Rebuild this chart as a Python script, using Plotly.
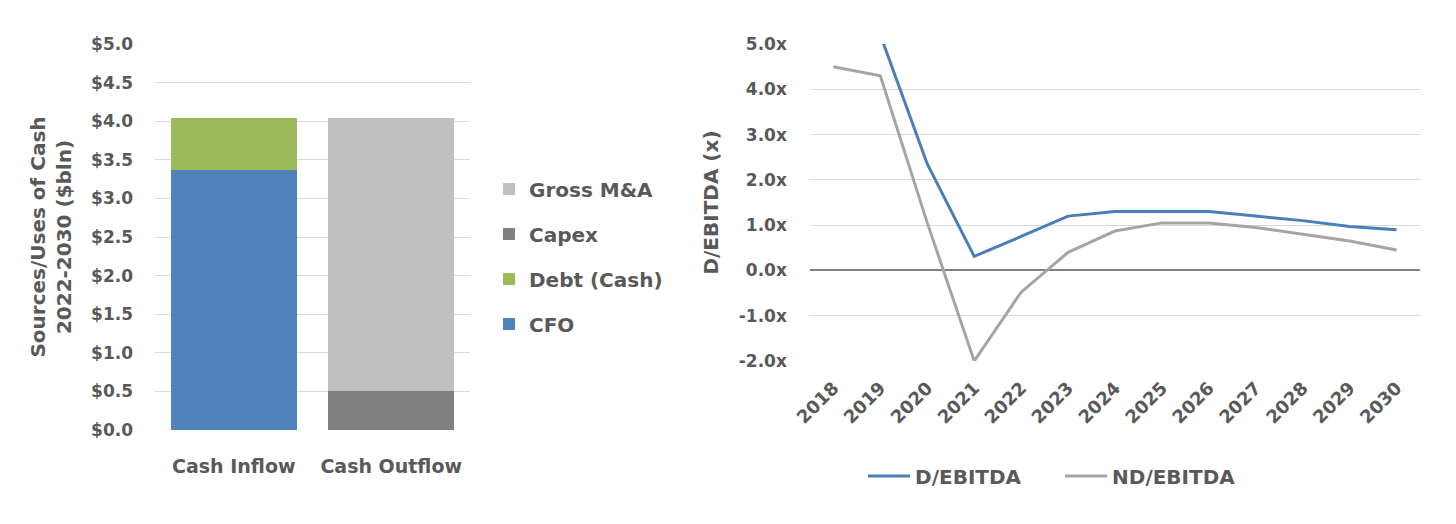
import plotly.graph_objects as go

# --- left chart: sources / uses of cash 2022-2030 ($bln) ---
flows = ["Cash Inflow", "Cash Outflow"]
cfo = [3.37, 0]
debt = [0.67, 0]
capex = [0, 0.50]
gross_ma = [0, 3.54]
cash_ticks = [0, 0.5, 1, 1.5, 2, 2.5, 3, 3.5, 4, 4.5, 5]
cash_labels = ["$0.0", "$0.5", "$1.0", "$1.5", "$2.0", "$2.5", "$3.0", "$3.5", "$4.0", "$4.5", "$5.0"]

# --- right chart: leverage ---
years = ["2018", "2019", "2020", "2021", "2022", "2023", "2024",
         "2025", "2026", "2027", "2028", "2029", "2030"]
d_ebitda = [6.0, 5.2, 2.35, 0.31, 0.75, 1.2, 1.3, 1.3, 1.3, 1.2, 1.1, 0.97, 0.9]
nd_ebitda = [4.5, 4.3, 1.05, -2.0, -0.48, 0.4, 0.87, 1.05, 1.05, 0.95, 0.8, 0.65, 0.45]
lev_ticks = [-2, -1, 0, 1, 2, 3, 4, 5]
lev_labels = ["-2.0x", "-1.0x", "0.0x", "1.0x", "2.0x", "3.0x", "4.0x", "5.0x"]

TXT = "#595959"
GRID = "#d9d9d9"
FONT = dict(family="DejaVu Sans", size=17, color=TXT, weight="bold")

fig = go.Figure()

# stacked bottom-up; legendrank puts the top segment first in the legend
bar_series = [("CFO", cfo, "#4f81bd", 4), ("Debt (Cash)", debt, "#9bbb59", 3),
              ("Capex", capex, "#808080", 2), ("Gross M&A", gross_ma, "#bfbfbf", 1)]
for name, vals, col, rank in bar_series:
    fig.add_trace(go.Bar(
        x=flows, y=vals, name=name, marker=dict(color=col, line=dict(width=0)),
        legendgroup=name, legendrank=rank, legend="legend", xaxis="x", yaxis="y",
    ))

fig.add_trace(go.Scatter(
    x=years, y=d_ebitda, mode="lines", name="D/EBITDA",
    line=dict(color="#4a7ebb", width=3), legend="legend2", xaxis="x2", yaxis="y2",
))
fig.add_trace(go.Scatter(
    x=years, y=nd_ebitda, mode="lines", name="ND/EBITDA",
    line=dict(color="#a5a5a5", width=3), legend="legend2", xaxis="x2", yaxis="y2",
))

# page body keeps an 8px margin, so the figure is 16px smaller than the window
fig.update_layout(
    width=1440, height=508,
    margin=dict(l=0, r=0, t=0, b=0),
    paper_bgcolor="white", plot_bgcolor="white",
    font=FONT,
    barmode="stack", bargap=0.2,
    showlegend=True,
    xaxis=dict(domain=[0.1021, 0.3208], showgrid=False, showline=False,
               ticks="", ticklabelstandoff=23, automargin=False,
               tickfont=dict(size=19)),
    yaxis=dict(domain=[0.1693, 0.9291], range=[0, 5], tickvals=cash_ticks,
               ticktext=cash_labels, showgrid=True, gridcolor=GRID, gridwidth=1,
               zeroline=False, showline=False, ticklabelstandoff=21,
               automargin=False,
               title=dict(text="Sources/Uses of Cash<br>2022-2030 ($bln)",
                          standoff=14)),
    xaxis2=dict(domain=[0.5569, 0.9806], anchor="y2", range=[-0.5, 12.5],
                showgrid=False, showline=False, ticks="", tickangle=-45,
                ticklabelstandoff=12, automargin=False, tickfont=dict(size=18)),
    yaxis2=dict(domain=[0.3051, 0.9291], anchor="x2", range=[-2, 5],
                tickvals=lev_ticks, ticktext=lev_labels, showgrid=True,
                gridcolor=GRID, gridwidth=1, zeroline=True, zerolinecolor="#808080",
                zerolinewidth=2, showline=False, ticklabelstandoff=22,
                automargin=False,
                title=dict(text="D/EBITDA (x)", standoff=14)),
    legend=dict(x=0.334, y=0.511, xanchor="left", yanchor="middle",
                traceorder="grouped", tracegroupgap=16,
                font=dict(size=20), bgcolor="rgba(0,0,0,0)"),
    legend2=dict(orientation="h", x=0.7306, y=0.0787, xanchor="center",
                 yanchor="middle", font=dict(size=20), bgcolor="rgba(0,0,0,0)",
                 itemwidth=42, entrywidth=140, entrywidthmode="pixels"),
)

fig.write_html("out.html")
